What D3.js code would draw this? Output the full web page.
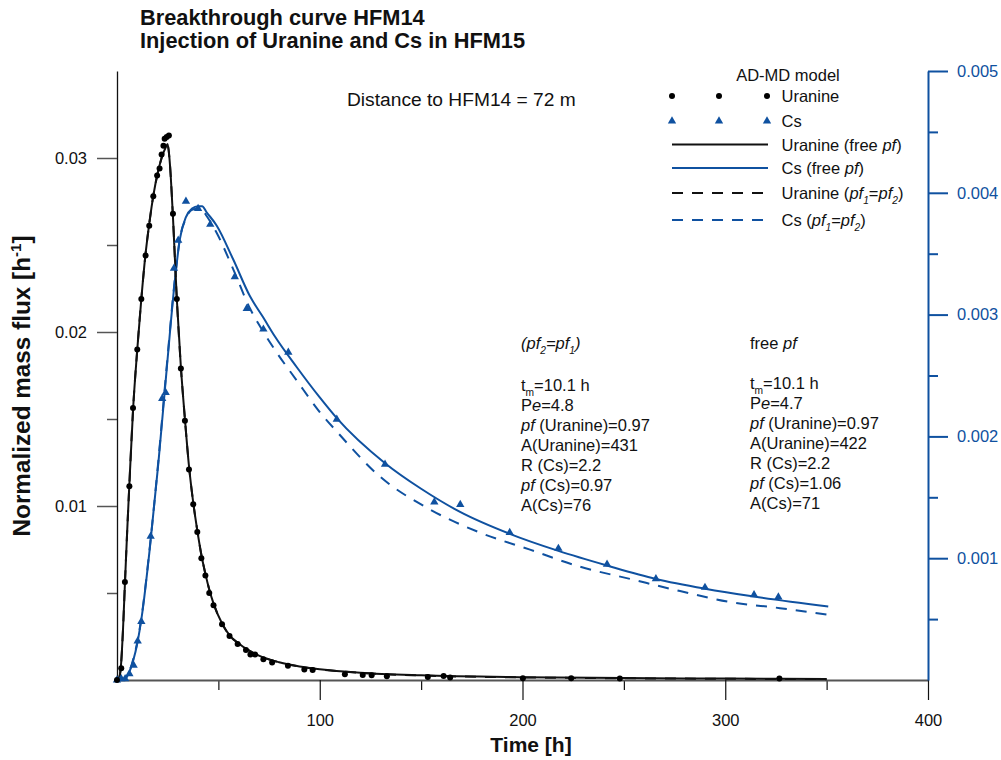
<!DOCTYPE html>
<html><head><meta charset="utf-8">
<script src="https://cdn.jsdelivr.net/npm/d3@7"></script>
<style>
body{margin:0;background:#fff}
svg{display:block}
text{font-family:"Liberation Sans",Arial,Helvetica,sans-serif;fill:#111}
</style>
</head><body>
<svg id="chart" width="1001" height="760"></svg>
<script>
// ---------------- DATA ----------------
// Uranine measured (time h, normalized mass flux 1/h) - left axis
const uranineObsTime = [0,2.1,3.9,6.1,7.9,10.0,12.0,14.1,15.9,17.9,19.8,21.0,22.0,22.9,23.5,24.5,25.6,27.6,29.5,31.5,33.5,35.5,37.6,39.6,41.6,43.6,45.5,47.6,51.8,55.5,59.5,63.6,65.8,68.1,72.2,76.5,84.3,92.4,96.5,112.4,121.2,125.6,133.1,153.3,161.1,164.3,200.2,224,248,326.7];
const uranineObsFlux = [0,0.00067,0.00563,0.01113,0.01563,0.0190,0.0219,0.0244,0.0261,0.0278,0.0290,0.0294,0.0302,0.0307,0.0311,0.0312,0.0313,0.0268,0.0219,0.0179,0.0149,0.0121,0.0101,0.0085,0.0070,0.0060,0.0050,0.0043,0.0032,0.00253,0.00207,0.00172,0.00146,0.00146,0.00119,0.0010,0.00082,0.00061,0.00057,0.00033,0.00029,0.00027,0.00021,0.00017,0.00023,0.00014,0.0001,0.0001,0.00008,0.00008];

// Cs measured - right axis
const csObsTime = [0,2.1,4.0,6.1,8.2,10.2,12.0,16.6,22.3,24.0,28.1,30.2,34.0,40.0,46.0,58.1,64.0,72.2,84.5,108.4,132.2,156.5,169.3,193.7,217.7,241.7,265.8,290.0,314.2,326.2];
const csObsFlux = [0,0.00001,0.00001,0.00005,0.00012,0.00032,0.00048,0.00118,0.00231,0.00236,0.00338,0.00361,0.00393,0.00387,0.00374,0.00331,0.00305,0.00288,0.00269,0.00214,0.00177,0.00146,0.00144,0.00121,0.00108,0.00095,0.00083,0.00076,0.00070,0.00068];

// Uranine model (free pf)
const uranineFreeTime = [0,1,2,3,4,5,6,8,10,12,14,16,18,20,22,24,25,26,27.6,29.5,31.5,33.5,35.5,37.6,39.6,41.6,43.6,45.5,47.6,52,56,60,65,70,80,90,100,120,150,200,250,300,350];
const uranineFreeFlux = [0,0.0001,0.0009,0.003,0.0058,0.0085,0.011,0.0157,0.019,0.0219,0.0244,0.0263,0.0279,0.0291,0.0300,0.0306,0.0308,0.0298,0.0266,0.0219,0.0180,0.0150,0.0123,0.0102,0.0086,0.0072,0.0061,0.0052,0.0044,0.0032,0.0025,0.0021,0.0017,0.0014,0.00102,0.00078,0.00062,0.00042,0.00027,0.00016,0.00011,0.00008,0.00006];

// Uranine model (pf1 = pf2)
const uranineEqTime = [0,1,2,3,4,5,6,8,10,12,14,16,18,20,22,24,25,26,27.6,29.5,31.5,33.5,35.5,37.6,39.6,41.6,43.6,45.5,47.6,52,56,60,65,70,80,90,100,120,150,200,250,300,350];
const uranineEqFlux = [0,0.0001,0.0009,0.003,0.0058,0.0085,0.011,0.0157,0.019,0.0219,0.0244,0.0263,0.0279,0.0291,0.0300,0.0306,0.0307,0.0298,0.0266,0.0219,0.0180,0.0150,0.0123,0.0102,0.0086,0.0072,0.0061,0.0052,0.0044,0.0032,0.0025,0.0021,0.0017,0.0014,0.00101,0.00077,0.00061,0.00041,0.00026,0.00015,0.0001,0.00007,0.00005];

// Cs model (free pf)
const csFreeTime = [0,3,5,8,10,12.2,16.3,20.4,24.5,28.6,31,34,37,40,42,44.2,49.2,57.4,65.6,72,77.9,88.6,100,108.4,132.2,150,169.2,193.7,217.7,241.7,265.8,290,314.2,350.8];
const csFreeFlux = [0,0,0.00003,0.00016,0.0003,0.00052,0.0011,0.00178,0.00255,0.00329,0.00362,0.0038,0.00387,0.00389,0.00389,0.00384,0.00373,0.00345,0.00315,0.00298,0.00282,0.00257,0.00232,0.00215,0.00178,0.00157,0.00138,0.0012,0.00106,0.00094,0.00083,0.00075,0.000685,0.000603];

// Cs model (pf1 = pf2)
const csEqTime = [0,3,5,8,10,12.2,16.3,20.4,24.5,28.6,31,34,37,40,42,44.2,49.2,57.4,65.6,71.4,77.9,88.6,100,108.4,129.7,154.4,179,203.7,228.4,253,277.7,302.3,327,350.8];
const csEqFlux = [0,0,0.00003,0.00017,0.00031,0.00053,0.00111,0.0018,0.00257,0.0033,0.00362,0.00379,0.00386,0.00387,0.00386,0.00381,0.00367,0.00337,0.00305,0.00288,0.00271,0.00246,0.0022,0.00204,0.00167,0.0014,0.00121,0.00107,0.00093,0.00083,0.00073,0.00064,0.00059,0.000535];

// Tick values
const xMajorTicks = [100,200,300,400];
const xMinorTicks = [50,150,250,350];
const yLeftMajorTicks = [0.01,0.02,0.03];
const yLeftMinorTicks = [0.005,0.015,0.025];
const yRightMajorTicks = [0.001,0.002,0.003,0.004,0.005];
const yRightMinorTicks = [0.0005,0.0015,0.0025,0.0035,0.0045];

// ---------------- CHART ----------------
const BLUE = "#0f51a0";
const svg = d3.select("#chart");
const x = d3.scaleLinear().domain([0,400]).range([117,928]);
const yL = d3.scaleLinear().domain([0,0.035]).range([680,71]);
const yR = d3.scaleLinear().domain([0,0.005]).range([680,71]);

const zip = (a,b) => a.map((v,i)=>[v,b[i]]);

function rich(parent, px, py, segs, size, opts={}) {
  const t = parent.append("text").attr("x",px).attr("y",py)
    .attr("font-size",size).attr("text-anchor",opts.anchor||"start");
  if (opts.fill) t.style("fill",opts.fill);
  if (opts.weight) t.attr("font-weight",opts.weight);
  if (opts.transform) t.attr("transform",opts.transform);
  let shift = 0;
  segs.forEach(s => {
    if (typeof s === "string") s = {t:s};
    const ts = t.append("tspan").text(s.t);
    if (s.i) ts.attr("font-style","italic");
    let want = 0;
    if (s.sub) { want = size*0.3; ts.attr("font-size",size*0.62); }
    if (s.sup) { want = -size*0.38; ts.attr("font-size",size*0.62); }
    if (want !== shift) ts.attr("dy", want-shift);
    shift = want;
  });
  return t;
}

// Axes
const gxMinor = svg.append("g").attr("transform","translate(0,680)")
  .call(d3.axisBottom(x).tickValues(xMinorTicks).tickSize(10).tickSizeOuter(0).tickFormat(""));
gxMinor.select(".domain").remove();
const gx = svg.append("g").attr("transform","translate(0,680)")
  .call(d3.axisBottom(x).tickValues(xMajorTicks).tickSize(20).tickSizeOuter(0).tickPadding(14).tickFormat(d3.format("d")));
gx.select(".domain").attr("stroke","#555").attr("stroke-width",2);
gx.selectAll(".tick line").attr("stroke","#111").attr("stroke-width",1.2);
gxMinor.selectAll(".tick line").attr("stroke","#111").attr("stroke-width",1.2);
gx.selectAll(".tick text").attr("font-size",16.5).attr("font-family","Liberation Sans, Arial, sans-serif").style("fill","#111");

const gyMinor = svg.append("g").attr("transform","translate(117,0)")
  .call(d3.axisLeft(yL).tickValues(yLeftMinorTicks).tickSize(10).tickSizeOuter(0).tickFormat(""));
gyMinor.select(".domain").remove();
const gy = svg.append("g").attr("transform","translate(117,0)")
  .call(d3.axisLeft(yL).tickValues(yLeftMajorTicks).tickSize(20).tickSizeOuter(0).tickPadding(10).tickFormat(d3.format(".2f")));
gy.select(".domain").attr("stroke","#111").attr("stroke-width",1.3);
gy.selectAll(".tick line").attr("stroke","#555").attr("stroke-width",1.5);
gyMinor.selectAll(".tick line").attr("stroke","#555").attr("stroke-width",1.5);
gy.selectAll(".tick text").attr("font-size",16.5).attr("font-family","Liberation Sans, Arial, sans-serif").style("fill","#111");

const grMinor = svg.append("g").attr("transform","translate(928,0)")
  .call(d3.axisRight(yR).tickValues(yRightMinorTicks).tickSize(10).tickSizeOuter(0).tickFormat(""));
grMinor.select(".domain").remove();
const gr = svg.append("g").attr("transform","translate(928,0)")
  .call(d3.axisRight(yR).tickValues(yRightMajorTicks).tickSize(20).tickSizeOuter(0).tickPadding(9).tickFormat(d3.format(".3f")));
gr.select(".domain").attr("stroke",BLUE).attr("stroke-width",2);
gr.selectAll(".tick line").attr("stroke",BLUE).attr("stroke-width",2);
grMinor.selectAll(".tick line").attr("stroke",BLUE).attr("stroke-width",2);
gr.selectAll(".tick text").attr("font-size",16.5).attr("font-family","Liberation Sans, Arial, sans-serif").style("fill",BLUE);

// Model curves
const lineL = d3.line().x(d=>x(d[0])).y(d=>yL(d[1])).curve(d3.curveMonotoneX);
const lineR = d3.line().x(d=>x(d[0])).y(d=>yR(d[1])).curve(d3.curveMonotoneX);
const plot = svg.append("g");
plot.append("path").attr("d",lineR(zip(csEqTime,csEqFlux))).attr("fill","none").attr("stroke",BLUE).attr("stroke-width",2).attr("stroke-dasharray","11,9");
plot.append("path").attr("d",lineR(zip(csFreeTime,csFreeFlux))).attr("fill","none").attr("stroke",BLUE).attr("stroke-width",2);
plot.append("path").attr("d",lineL(zip(uranineEqTime,uranineEqFlux))).attr("fill","none").attr("stroke","#111").attr("stroke-width",2).attr("stroke-dasharray","11,9");
plot.append("path").attr("d",lineL(zip(uranineFreeTime,uranineFreeFlux))).attr("fill","none").attr("stroke","#111").attr("stroke-width",2);

// Markers
const tri = d3.symbol().type(d3.symbolTriangle).size(30);
plot.selectAll(".cs").data(zip(csObsTime,csObsFlux)).join("path")
  .attr("d",tri).attr("transform",d=>`translate(${x(d[0])},${yR(d[1])})`).attr("fill",BLUE);
plot.selectAll(".ur").data(zip(uranineObsTime,uranineObsFlux)).join("circle")
  .attr("cx",d=>x(d[0])).attr("cy",d=>yL(d[1])).attr("r",3).attr("fill","#000");

// Titles
svg.append("text").attr("x",140).attr("y",25).attr("font-size",21.8).attr("font-weight","bold").text("Breakthrough curve HFM14");
svg.append("text").attr("x",140).attr("y",48).attr("font-size",21.8).attr("font-weight","bold").text("Injection of Uranine and Cs in HFM15");
svg.append("text").attr("x",531).attr("y",752).attr("font-size",21).attr("font-weight","bold").attr("text-anchor","middle").text("Time [h]");
rich(svg, 0, 0, ["Normalized mass flux [h",{t:"-1",sup:true},"]"], 24.3, {anchor:"middle", weight:"bold", transform:"translate(30,386) rotate(-90)"});

svg.append("text").attr("x",347).attr("y",106).attr("font-size",19.2).text("Distance to HFM14 = 72 m");

// Legend
const lg = svg.append("g");
lg.append("text").attr("x",788).attr("y",81).attr("font-size",16.5).attr("text-anchor","middle").text("AD-MD model");
const lx = [672,719,767];
const rows = [96,121,144.5,168,193,220];
lx.forEach(v=>lg.append("circle").attr("cx",v).attr("cy",rows[0]).attr("r",3).attr("fill","#000"));
lx.forEach(v=>lg.append("path").attr("d",tri).attr("transform",`translate(${v},${rows[1]})`).attr("fill",BLUE));
const lineSpecs = [["#111",null],[BLUE,null],["#111","11,9"],[BLUE,"11,9"]];
lineSpecs.forEach((s,i)=>{
  const l = lg.append("line").attr("x1",672).attr("x2",768).attr("y1",rows[i+2]).attr("y2",rows[i+2]).attr("stroke",s[0]).attr("stroke-width",2);
  if (s[1]) l.attr("stroke-dasharray",s[1]);
});
const TX = 781.5, LS = 16.5;
rich(lg, TX, rows[0]+6, ["Uranine"], LS);
rich(lg, TX, rows[1]+6, ["Cs"], LS);
rich(lg, TX, rows[2]+6, ["Uranine (free ",{t:"pf",i:true},")"], LS);
rich(lg, TX, rows[3]+6, ["Cs (free ",{t:"pf",i:true},")"], LS);
rich(lg, TX, rows[4]+6, ["Uranine (",{t:"pf",i:true},{t:"1",i:true,sub:true},{t:"="},{t:"pf",i:true},{t:"2",i:true,sub:true},")"], LS);
rich(lg, TX, rows[5]+6, ["Cs (",{t:"pf",i:true},{t:"1",i:true,sub:true},{t:"="},{t:"pf",i:true},{t:"2",i:true,sub:true},")"], LS);

// Parameter annotations
const AS = 16.5;
const ann = svg.append("g");
const L = 521, R = 750;
rich(ann, L, 349, [{t:"(pf",i:true},{t:"2",i:true,sub:true},{t:"=pf",i:true},{t:"1",i:true,sub:true},{t:")",i:true}], AS);
rich(ann, R, 349, ["free ",{t:"pf",i:true}], AS);
const blockL = [
  ["t",{t:"m",sub:true},"=10.1 h"],
  ["P",{t:"e",i:true},"=4.8"],
  [{t:"pf",i:true}," (Uranine)=0.97"],
  ["A(Uranine)=431"],
  ["R (Cs)=2.2"],
  [{t:"pf",i:true}," (Cs)=0.97"],
  ["A(Cs)=76"]
];
const blockR = [
  ["t",{t:"m",sub:true},"=10.1 h"],
  ["P",{t:"e",i:true},"=4.7"],
  [{t:"pf",i:true}," (Uranine)=0.97"],
  ["A(Uranine)=422"],
  ["R (Cs)=2.2"],
  [{t:"pf",i:true}," (Cs)=1.06"],
  ["A(Cs)=71"]
];
blockL.forEach((s,i)=>rich(ann, L, 391+i*20, s, AS));
blockR.forEach((s,i)=>rich(ann, R, 389+i*20, s, AS));
</script>
</body></html>
